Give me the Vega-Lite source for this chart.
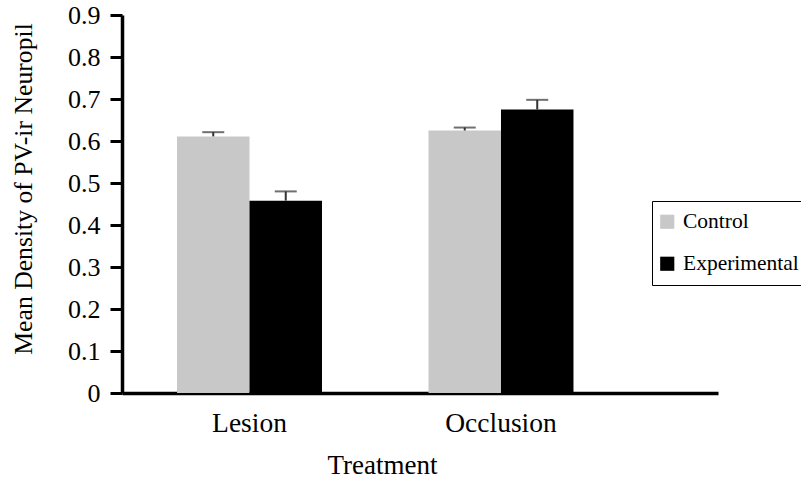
{
  "$schema": "https://vega.github.io/schema/vega-lite/v6.json",
  "autosize": "none",
  "padding": {"left": 122, "top": 15, "right": 83, "bottom": 87},
  "width": 596,
  "height": 378,
  "background": "white",
  "config": {
    "view": {"stroke": null},
    "font": "Liberation Serif",
    "axis": {"grid": false, "labelFont": "Liberation Serif", "titleFont": "Liberation Serif", "titleFontWeight": "normal", "labelColor": "black", "titleColor": "black", "domainColor": "black"},
    "legend": {"labelFont": "Liberation Serif", "strokeColor": "black"}
  },
  "data": {
    "values": [
      {"Treatment": "Lesion", "group": "Control", "mean": 0.611, "upper": 0.621},
      {"Treatment": "Lesion", "group": "Experimental", "mean": 0.458, "upper": 0.48},
      {"Treatment": "Occlusion", "group": "Control", "mean": 0.625, "upper": 0.632},
      {"Treatment": "Occlusion", "group": "Experimental", "mean": 0.675, "upper": 0.698}
    ]
  },
  "encoding": {
    "x": {
      "field": "Treatment", "type": "nominal", "sort": ["Lesion", "Occlusion"],
      "scale": {"paddingInner": 0.4235, "paddingOuter": 0.3967, "align": 0.2757, "round": false},
      "axis": {"labelAngle": 0, "ticks": false, "labelFontSize": 27.5, "labelPadding": 16, "domainWidth": 3.5, "title": "Treatment", "titleFontSize": 27, "titlePadding": 16, "titleX": 260}
    },
    "xOffset": {"field": "group", "type": "nominal", "sort": ["Control", "Experimental"], "scale": {"paddingInner": 0, "paddingOuter": 0}}
  },
  "layer": [
    {
      "mark": {"type": "bar"},
      "encoding": {
        "y": {
          "field": "mean", "type": "quantitative",
          "scale": {"domain": [0, 0.9], "nice": false},
          "axis": {"values": [0, 0.1, 0.2, 0.3, 0.4, 0.5, 0.6, 0.7, 0.8, 0.9], "format": ".1~f", "labelFontSize": 26, "labelPadding": 10, "tickSize": 12, "tickWidth": 3, "tickColor": "black", "domainWidth": 3.5, "title": "Mean Density of PV-ir Neuropil", "titleFontSize": 25.7, "titlePadding": 31, "titleY": 173.5}
        },
        "color": {
          "field": "group", "type": "nominal",
          "scale": {"domain": ["Control", "Experimental"], "range": ["#c8c8c8", "#000000"]},
          "legend": {"title": null, "orient": "none", "legendX": 530, "legendY": 186, "strokeColor": "black", "padding": 10, "symbolType": "square", "symbolSize": 200, "symbolStrokeWidth": 0, "symbolOpacity": 1, "symbolOffset": -5.5, "labelFontSize": 21.5, "labelOffset": 5, "rowPadding": 19, "labelColor": "black"}
        }
      }
    },
    {
      "mark": {"type": "rule", "color": "#333333", "strokeWidth": 2},
      "encoding": {
        "y": {"field": "mean", "type": "quantitative"},
        "y2": {"field": "upper"}
      }
    },
    {
      "mark": {"type": "tick", "color": "#333333", "size": 22, "thickness": 2},
      "encoding": {
        "y": {"field": "upper", "type": "quantitative"}
      }
    }
  ]
}
